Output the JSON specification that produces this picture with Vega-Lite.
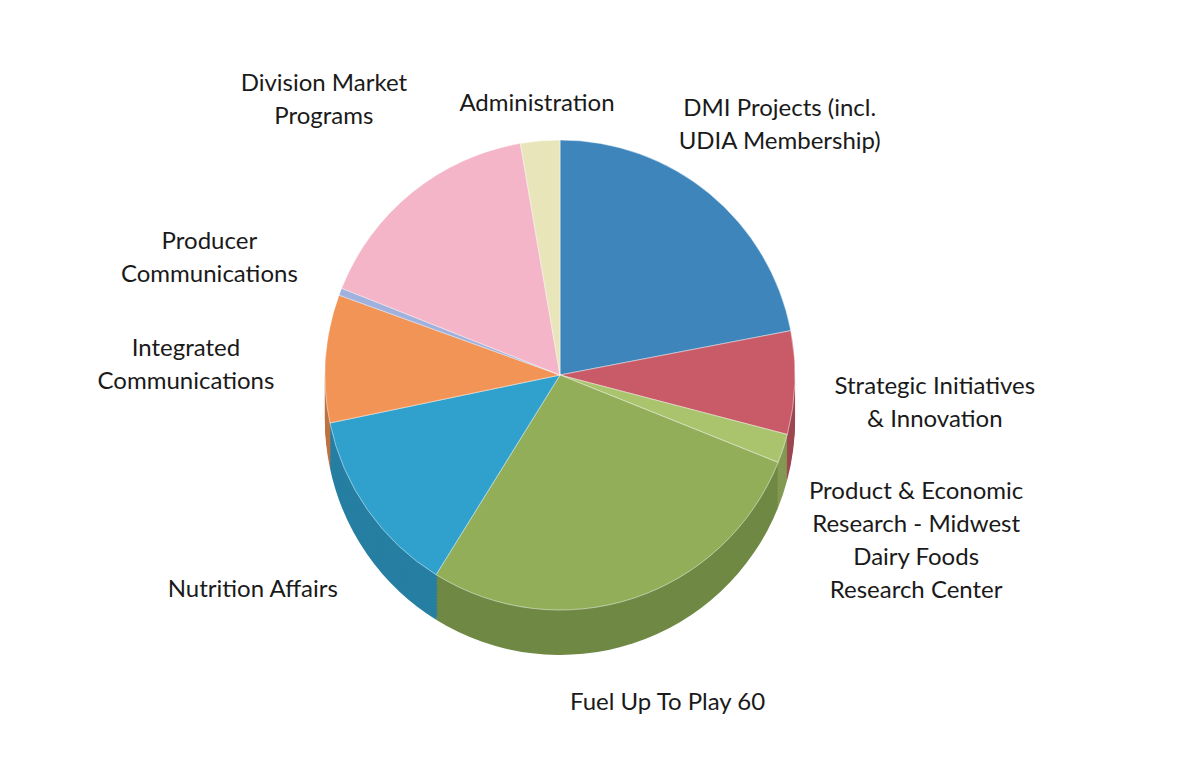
{
  "$schema": "https://vega.github.io/schema/vega-lite/v6.json",
  "width": 1120,
  "height": 750,
  "autosize": "none",
  "padding": {"left": 0, "top": 0, "right": 68, "bottom": 31},
  "background": "white",
  "config": {"view": {"stroke": null}, "text": {"font": "Lato", "fontSize": 24, "lineHeight": 33, "color": "#1a1a1a"}},
  "data": {"values": [
    {"ord": 1, "name": "DMI Projects (incl. UDIA Membership)", "value": 22.0, "label": ["DMI Projects (incl.", "UDIA Membership)"]},
    {"ord": 2, "name": "Strategic Initiatives & Innovation", "value": 7.1, "label": ["Strategic Initiatives", "& Innovation"]},
    {"ord": 3, "name": "Product & Economic Research - Midwest Dairy Foods Research Center", "value": 2.0, "label": ["Product & Economic", "Research - Midwest", "Dairy Foods", "Research Center"]},
    {"ord": 4, "name": "Fuel Up To Play 60", "value": 27.8, "label": ["Fuel Up To Play 60"]},
    {"ord": 5, "name": "Nutrition Affairs", "value": 12.9, "label": ["Nutrition Affairs"]},
    {"ord": 6, "name": "Integrated Communications", "value": 8.8, "label": ["Integrated", "Communications"]},
    {"ord": 7, "name": "Producer Communications", "value": 0.5, "label": ["Producer", "Communications"]},
    {"ord": 8, "name": "Division Market Programs", "value": 16.3, "label": ["Division Market", "Programs"]},
    {"ord": 9, "name": "Administration", "value": 2.7, "label": ["Administration"]}
  ]},
  "layer": [
    {
      "encoding": {
        "theta": {"field": "value", "type": "quantitative", "stack": true},
        "order": {"field": "ord", "type": "quantitative"},
        "color": {"field": "ord", "type": "nominal", "legend": null, "scale": {"domain": [1,2,3,4,5,6,7,8,9], "range": ["#2f6891", "#9d4751", "#849953", "#6f8944", "#267fa2", "#bd7344", "#7c8aab", "#be8d9c", "#b5b291"]}}
      },
      "layer": [
        {"mark": {"type": "arc", "radius": 235, "yOffset": 45}},
        {"mark": {"type": "arc", "radius": 235, "yOffset": 42}},
        {"mark": {"type": "arc", "radius": 235, "yOffset": 39}},
        {"mark": {"type": "arc", "radius": 235, "yOffset": 36}},
        {"mark": {"type": "arc", "radius": 235, "yOffset": 33}},
        {"mark": {"type": "arc", "radius": 235, "yOffset": 30}},
        {"mark": {"type": "arc", "radius": 235, "yOffset": 27}},
        {"mark": {"type": "arc", "radius": 235, "yOffset": 24}},
        {"mark": {"type": "arc", "radius": 235, "yOffset": 21}},
        {"mark": {"type": "arc", "radius": 235, "yOffset": 18}},
        {"mark": {"type": "arc", "radius": 235, "yOffset": 15}},
        {"mark": {"type": "arc", "radius": 235, "yOffset": 12}},
        {"mark": {"type": "arc", "radius": 235, "yOffset": 9}},
        {"mark": {"type": "arc", "radius": 235, "yOffset": 6}},
        {"mark": {"type": "arc", "radius": 235, "yOffset": 3}}
      ]
    },
    {
      "mark": {"type": "arc", "radius": 235, "stroke": "#ffffff", "strokeWidth": 0.8, "strokeOpacity": 0.6},
      "encoding": {
        "theta": {"field": "value", "type": "quantitative", "stack": true},
        "order": {"field": "ord", "type": "quantitative"},
        "color": {"field": "ord", "type": "nominal", "legend": null, "scale": {"domain": [1,2,3,4,5,6,7,8,9], "range": ["#3d85bb", "#c95b68", "#a9c46c", "#93ae59", "#30a0cc", "#f39457", "#9fb1dc", "#f4b5c8", "#e9e5ba"]}}
      }
    },
    {
      "mark": {"type": "text", "radius": 375, "align": "center", "baseline": "middle"},
      "encoding": {
        "theta": {"field": "value", "type": "quantitative", "stack": true},
        "order": {"field": "ord", "type": "quantitative"},
        "detail": {"field": "ord", "type": "nominal"},
        "text": {"condition": {"test": "indexof([2,3,5,6,7,8], datum.ord) >= 0", "field": "label", "type": "nominal"}, "value": ""}
      }
    },
    {
      "mark": {"type": "text", "radius": 345, "align": "center", "baseline": "middle"},
      "encoding": {
        "theta": {"field": "value", "type": "quantitative", "stack": true},
        "order": {"field": "ord", "type": "quantitative"},
        "detail": {"field": "ord", "type": "nominal"},
        "text": {"condition": {"test": "indexof([1,4], datum.ord) >= 0", "field": "label", "type": "nominal"}, "value": ""}
      }
    },
    {
      "mark": {"type": "text", "radius": 272, "align": "center", "baseline": "middle"},
      "encoding": {
        "theta": {"field": "value", "type": "quantitative", "stack": true},
        "order": {"field": "ord", "type": "quantitative"},
        "detail": {"field": "ord", "type": "nominal"},
        "text": {"condition": {"test": "datum.ord == 9", "field": "label", "type": "nominal"}, "value": ""}
      }
    }
  ],
  "resolve": {"scale": {"color": "independent"}}
}
